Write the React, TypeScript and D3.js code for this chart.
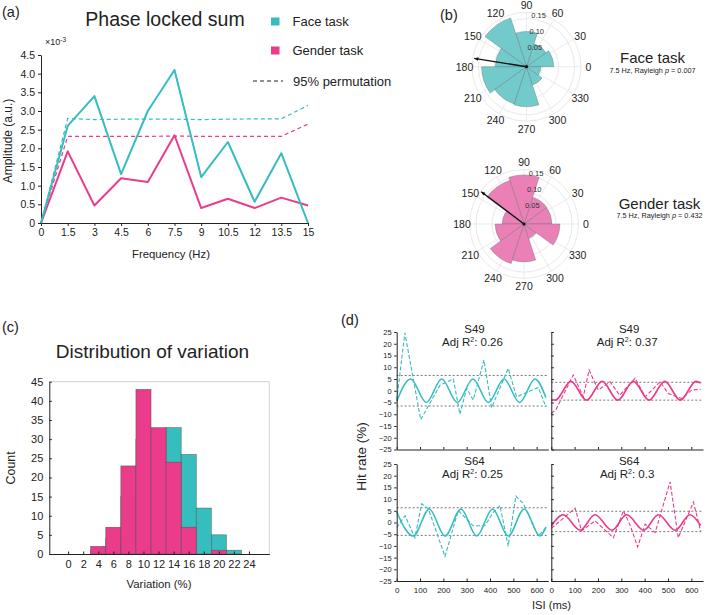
import React, { useEffect, useRef } from 'react';
import * as d3 from 'd3';

const FONT = '"Liberation Sans", Arial, Helvetica, sans-serif';
const INK = '#222';
const TEAL = '#36bdbd';
const PINK = '#eb3b8b';
const TEAL_ROSE = '#72caca';
const PINK_ROSE = '#eb80b6';

// (a) phase locked sum, amplitude in units of 1e-3
const freqs = [0, 1.5, 3, 4.5, 6, 7.5, 9, 10.5, 12, 13.5, 15];
const faceAmp = [0, 2.6, 3.4, 1.31, 3.0, 4.1, 1.23, 2.17, 0.57, 1.87, 0];
const genderAmp = [0, 1.92, 0.47, 1.2, 1.1, 2.35, 0.4, 0.65, 0.4, 0.68, 0.47];
const facePerm = [0, 2.8, 2.77, 2.78, 2.78, 2.78, 2.77, 2.78, 2.79, 2.79, 3.15];
const genderPerm = [0, 2.32, 2.32, 2.32, 2.32, 2.33, 2.32, 2.32, 2.32, 2.32, 2.65];
const ampTicks = [0, 0.5, 1, 1.5, 2, 2.5, 3, 3.5, 4, 4.5];

// (b) phase histograms at 7.5 Hz (bin start angle, proportion)
const roseBinStarts = [0, 36, 72, 108, 144, 180, 216, 252, 288, 324];
const faceRose = [0.085, 0.075, 0.11, 0.16, 0.097, 0.14, 0.122, 0.125, 0.06, 0.045];
const genderRose = [0.087, 0.088, 0.153, 0.143, 0.068, 0.09, 0.13, 0.118, 0.047, 0.112];
const roseRings = [0.05, 0.1, 0.15];
const angleLabels = [0, 30, 60, 90, 120, 150, 180, 210, 240, 270, 300, 330];
const faceMean = { angle: 171, length: 0.165 };
const genderMean = { angle: 143, length: 0.167 };

// (c) distribution of variation
const variationBins = [4, 6, 8, 10, 12, 14, 16, 18, 20, 22];
const faceCounts = [1, 4, 15, 30, 32, 33, 26, 12, 5, 1];
const genderCounts = [2, 7, 23, 43, 33, 24, 7, 0, 1, 0];
const countTicks = [0, 5, 10, 15, 20, 25, 30, 35, 40, 45];
const variationTicks = [0, 2, 4, 6, 8, 10, 12, 14, 16, 18, 20, 22, 24];

// (d) single-subject hit rate time courses
const isiTicks = [0, 100, 200, 300, 400, 500, 600];
const hitTicks = [-25, -20, -15, -10, -5, 0, 5, 10, 15, 20, 25];

const s49FaceIsi = [0, 35, 103, 186, 243, 271, 300, 328, 374, 407, 478, 514, 607, 640];
const s49FaceHit = [-4, 24.6, -12.3, 2.4, 5, -10, 1, -4, 13.1, -7.2, 9.5, -2.6, 1.4, -6.9];
const s49FaceFitIsi = [0, 60, 127, 193, 260, 327, 393, 460, 527, 593, 640];
const s49FaceFit = [-4.5, 5, -5, 5, -5, 5, -5, 5, -5, 5, -3];
const s49FaceBounds = [6.5, -6.5];

const s49GenderIsi = [0, 20, 94, 137, 162, 201, 252, 293, 359, 402, 466, 502, 559, 602, 640];
const s49GenderHit = [-9.7, -8, 6.7, -2.6, 8.8, 0.3, 3.8, -1.9, 5.3, -2.6, 3.8, -1.2, -3.3, 0.3, 0.6];
const s49GenderFitIsi = [0, 17, 84, 151, 218, 285, 352, 419, 486, 553, 620, 640];
const s49GenderFit = [-3.7, -4, 4, -4, 4, -4, 4, -4, 4, -4, 4, 3.3];
const s49GenderBounds = [3.6, -4.0];

const s64FaceIsi = [0, 36, 78, 107, 136, 207, 264, 328, 378, 414, 443, 478, 511, 543, 607, 640];
const s64FaceHit = [-2.2, 2.9, -6.5, 8, 5.8, -14.5, 5.1, -1.4, -1.4, 4.3, 7.2, -10.1, 11.3, 8, -5.8, -2.2];
const s64FaceFitIsi = [0, 71, 140, 207, 276, 343, 411, 478, 547, 614, 640];
const s64FaceFit = [4.5, -5.8, 5.8, -5.8, 5.8, -5.8, 5.8, -5.8, 5.8, -5.8, -2];
const s64FaceBounds = [6.3, -5.5];

const s64GenderIsi = [0, 30, 102, 130, 187, 266, 309, 337, 370, 402, 445, 509, 544, 609, 640];
const s64GenderHit = [-2.5, 0, 6.1, -3.6, 0.7, -6.5, 5, -1, -10.4, -0.7, -4.3, 17.4, -6.5, 8.7, -3.6];
const s64GenderFitIsi = [0, 51, 124, 187, 260, 323, 396, 459, 531, 594, 640];
const s64GenderFit = [-1.5, 3.3, -3.3, 3.3, -3.3, 3.3, -3.3, 3.3, -3.3, 3.3, -1.3];
const s64GenderBounds = [4.8, -3.9];

function label(g, x, y, s, size, anchor = 'middle') {
  return g.append('text')
    .attr('x', x)
    .attr('y', y)
    .attr('text-anchor', anchor)
    .attr('font-family', FONT)
    .attr('font-size', size)
    .attr('fill', INK)
    .text(s);
}

function styleAxis(sel, size) {
  sel.attr('font-family', FONT);
  sel.select('.domain').attr('stroke', INK).attr('stroke-width', 1);
  sel.selectAll('.tick line').attr('stroke', INK);
  sel.selectAll('.tick text').attr('font-size', size).attr('fill', INK);
}

function drawPhaseSum(svg) {
  const g = svg.append('g');
  const x = d3.scaleLinear().domain([0, 15]).range([41, 308]);
  const y = d3.scaleLinear().domain([0, 4.5]).range([223, 55]);

  g.append('g')
    .attr('transform', `translate(0,${y(0)})`)
    .call(d3.axisBottom(x).tickValues(freqs).tickSize(3).tickSizeOuter(0).tickFormat(d3.format('')))
    .call(s => styleAxis(s, 10.5));

  g.append('g')
    .attr('transform', `translate(${x(0)},0)`)
    .call(d3.axisLeft(y).tickValues(ampTicks).tickSize(3).tickSizeOuter(0)
      .tickFormat(d => (d === 0 ? '0' : d3.format('.1f')(d))))
    .call(s => styleAxis(s, 10.5));

  const line = d3.line().x((d, i) => x(freqs[i])).y(d => y(d));

  g.append('path').attr('d', line(facePerm)).attr('fill', 'none')
    .attr('stroke', TEAL).attr('stroke-width', 1.2).attr('stroke-dasharray', '4,3');
  g.append('path').attr('d', line(genderPerm)).attr('fill', 'none')
    .attr('stroke', PINK).attr('stroke-width', 1.2).attr('stroke-dasharray', '4,3');
  g.append('path').attr('d', line(genderAmp)).attr('fill', 'none')
    .attr('stroke', PINK).attr('stroke-width', 2).attr('stroke-linejoin', 'round');
  g.append('path').attr('d', line(faceAmp)).attr('fill', 'none')
    .attr('stroke', TEAL).attr('stroke-width', 2).attr('stroke-linejoin', 'round');

  // exponent
  const ex = label(g, 45, 45, '×10', 9, 'start');
  ex.append('tspan').attr('dy', -3).attr('font-size', 6.5).text('-3');

  label(g, 165, 26, 'Phase locked sum', 19.5);
  label(g, 2, 17, '(a)', 14.5, 'start');
  label(g, 171, 258, 'Frequency (Hz)', 11.3);
  label(g, 0, 0, 'Amplitude (a.u.)', 12)
    .attr('transform', `translate(12,${(y(0) + y(4.5)) / 2 + 2}) rotate(-90)`);

  // legend
  const legend = [
    { name: 'Face task', color: TEAL },
    { name: 'Gender task', color: PINK }
  ];
  legend.forEach((d, i) => {
    g.append('rect').attr('x', 271).attr('y', 17.5 + i * 29).attr('width', 8.5).attr('height', 8)
      .attr('fill', d.color);
    label(g, 292.5, 26 + i * 29, d.name, 13, 'start');
  });
  g.append('line').attr('x1', 253).attr('x2', 283).attr('y1', 81).attr('y2', 81)
    .attr('stroke', INK).attr('stroke-width', 1.2).attr('stroke-dasharray', '4,3');
  label(g, 293, 85.5, '95% permutation', 13, 'start');
}

function drawRose(svg, cx, cy, values, fill, mean, title, pValue, tx, ty) {
  const g = svg.append('g').attr('transform', `translate(${cx},${cy})`);
  const r = d3.scaleLinear().domain([0, 0.17]).range([0, 54.5]);
  const rad = a => (a * Math.PI) / 180;
  const toD3 = a => rad(90 - a);

  [...roseRings, 0.17].forEach(v => {
    g.append('circle').attr('r', r(v)).attr('fill', 'none')
      .attr('stroke', '#e2e2e2').attr('stroke-width', 0.8);
  });
  angleLabels.forEach(a => {
    g.append('line')
      .attr('x2', r(0.17) * Math.cos(rad(a)))
      .attr('y2', -r(0.17) * Math.sin(rad(a)))
      .attr('stroke', '#e6e6e6').attr('stroke-width', 0.8);
    label(g, 62 * Math.cos(rad(a)), -62 * Math.sin(rad(a)) + 4, String(a), 10.5);
  });

  const arc = d3.arc();
  g.selectAll('path.wedge')
    .data(values)
    .join('path')
    .attr('class', 'wedge')
    .attr('d', (v, i) => arc({
      innerRadius: 0,
      outerRadius: r(v),
      startAngle: toD3(roseBinStarts[i] + 36),
      endAngle: toD3(roseBinStarts[i])
    }))
    .attr('fill', fill)
    .attr('stroke', '#5a6a6a')
    .attr('stroke-opacity', 0.6)
    .attr('stroke-width', 0.6);

  roseRings.forEach(v => {
    label(g, r(v) * Math.cos(rad(83)) - 1, -r(v) * Math.sin(rad(83)) - 0.5, d3.format('.2f')(v), 7.5, 'start')
      .attr('fill', '#333');
  });

  // mean resultant vector
  const ex = r(mean.length) * Math.cos(rad(mean.angle));
  const ey = -r(mean.length) * Math.sin(rad(mean.angle));
  g.append('line').attr('x2', ex).attr('y2', ey).attr('stroke', '#111').attr('stroke-width', 1.4);
  const ux = Math.cos(rad(mean.angle));
  const uy = -Math.sin(rad(mean.angle));
  const head = [
    [ex, ey],
    [ex - 4 * ux - 1.8 * uy, ey - 4 * uy + 1.8 * ux],
    [ex - 4 * ux + 1.8 * uy, ey - 4 * uy - 1.8 * ux]
  ];
  g.append('polygon').attr('points', head.map(p => p.join(',')).join(' ')).attr('fill', '#111');
  g.append('circle').attr('r', 1.6).attr('fill', '#111');

  label(svg, tx, ty, title, 15);
  const sub = label(svg, tx, ty + 9.5, '7.5 Hz, Rayleigh ', 7.3);
  sub.append('tspan').attr('font-style', 'italic').text('p');
  sub.append('tspan').text(` = ${pValue}`);
}

function drawHistogram(svg) {
  const g = svg.append('g');
  const x = d3.scaleLinear().domain([-2.5, 26.7]).range([49.3, 269.3]);
  const y = d3.scaleLinear().domain([0, 45]).range([554, 381.7]);

  g.append('line').attr('x1', x(-2.5)).attr('x2', x(26.7)).attr('y1', y(45)).attr('y2', y(45))
    .attr('stroke', '#d0d0d0');
  g.append('line').attr('x1', x(26.7)).attr('x2', x(26.7)).attr('y1', y(45)).attr('y2', y(0))
    .attr('stroke', '#d0d0d0');

  const bars = (counts, color) => {
    g.append('g')
      .selectAll('rect')
      .data(variationBins.map((c, i) => ({ c, n: counts[i] })).filter(d => d.n > 0))
      .join('rect')
      .attr('x', d => x(d.c - 1))
      .attr('width', d => x(d.c + 1) - x(d.c - 1))
      .attr('y', d => y(d.n))
      .attr('height', d => y(0) - y(d.n))
      .attr('fill', color)
      .attr('stroke', '#555')
      .attr('stroke-width', 0.5);
  };
  bars(faceCounts, TEAL);
  bars(genderCounts, PINK);

  g.append('g')
    .attr('transform', `translate(0,${y(0)})`)
    .call(d3.axisBottom(x).tickValues(variationTicks).tickSize(-2.5).tickPadding(6).tickSizeOuter(0))
    .call(s => styleAxis(s, 11));
  g.append('g')
    .attr('transform', `translate(${x(-2.5)},0)`)
    .call(d3.axisLeft(y).tickValues(countTicks).tickSize(-2.5).tickPadding(6).tickSizeOuter(0))
    .call(s => styleAxis(s, 11));

  label(g, 2, 332, '(c)', 14.5, 'start');
  label(g, 152.5, 358, 'Distribution of variation', 19);
  label(g, 159, 588, 'Variation (%)', 11.4);
  label(g, 0, 0, 'Count', 12.4).attr('transform', `translate(15,${(y(0) + y(45)) / 2}) rotate(-90)`);
}

function drawFits(svg) {
  const g = svg.append('g');
  const cols = [
    d3.scaleLinear().domain([0, 650]).range([396.7, 548.3]),
    d3.scaleLinear().domain([0, 650]).range([551.3, 703])
  ];
  const rows = [
    d3.scaleLinear().domain([-25, 25]).range([449.5, 332]),
    d3.scaleLinear().domain([-25, 25]).range([581, 464])
  ];
  const panels = [
    { col: 0, row: 0, subject: 'S49', r2: '0.26', color: TEAL, isi: s49FaceIsi, hit: s49FaceHit, fitIsi: s49FaceFitIsi, fit: s49FaceFit, bounds: s49FaceBounds },
    { col: 1, row: 0, subject: 'S49', r2: '0.37', color: PINK, isi: s49GenderIsi, hit: s49GenderHit, fitIsi: s49GenderFitIsi, fit: s49GenderFit, bounds: s49GenderBounds },
    { col: 0, row: 1, subject: 'S64', r2: '0.25', color: TEAL, isi: s64FaceIsi, hit: s64FaceHit, fitIsi: s64FaceFitIsi, fit: s64FaceFit, bounds: s64FaceBounds },
    { col: 1, row: 1, subject: 'S64', r2: '0.3', color: PINK, isi: s64GenderIsi, hit: s64GenderHit, fitIsi: s64GenderFitIsi, fit: s64GenderFit, bounds: s64GenderBounds }
  ];

  panels.forEach(p => {
    const x = cols[p.col];
    const y = rows[p.row];
    const pg = g.append('g');

    p.bounds.forEach(b => {
      pg.append('line').attr('x1', x(0)).attr('x2', x(645)).attr('y1', y(b)).attr('y2', y(b))
        .attr('stroke', '#777').attr('stroke-width', 1).attr('stroke-dasharray', '2,2');
    });

    const dataLine = d3.line().x((d, i) => x(p.isi[i])).y(d => y(d));
    pg.append('path').attr('d', dataLine(p.hit)).attr('fill', 'none')
      .attr('stroke', p.color).attr('stroke-width', 1.1).attr('stroke-dasharray', '4,2');

    const fitLine = d3.line().curve(d3.curveMonotoneX).x((d, i) => x(p.fitIsi[i])).y(d => y(d));
    pg.append('path').attr('d', fitLine(p.fit)).attr('fill', 'none')
      .attr('stroke', p.color).attr('stroke-width', 1.6);

    pg.append('g')
      .attr('transform', `translate(0,${y(-25)})`)
      .call(d3.axisBottom(x).tickValues(isiTicks).tickSize(-2.5).tickPadding(6).tickSizeOuter(0)
        .tickFormat(p.row === 1 ? d3.format('') : () => ''))
      .call(s => styleAxis(s, 8));
    pg.append('g')
      .attr('transform', `translate(${x(0)},0)`)
      .call(d3.axisLeft(y).tickValues(hitTicks).tickSize(p.col === 0 ? 2.5 : -2.5).tickPadding(2.5).tickSizeOuter(0)
        .tickFormat(p.col === 0 ? d3.format('') : () => ''))
      .call(s => styleAxis(s, 7.5));

    const cx = (x(0) + x(650)) / 2;
    label(pg, cx + 2, y(25) + 1, p.subject, 11.5);
    const r2 = label(pg, cx, y(25) + 13.5, 'Adj R', 11.5);
    r2.append('tspan').attr('dy', -4).attr('font-size', 7).text('2');
    r2.append('tspan').attr('dy', 4).text(`: ${p.r2}`);
  });

  label(g, 341, 325, '(d)', 14.5, 'start');
  label(g, 551.5, 609, 'ISI (ms)', 11.2);
  label(g, 0, 0, 'Hit rate (%)', 13.5).attr('transform', `translate(366,${(rows[0](25) + rows[1](-25)) / 2}) rotate(-90)`);
}

export default function App() {
  const svgRef = useRef(null);

  useEffect(() => {
    const svg = d3.select(svgRef.current);
    svg.selectAll('*').remove();

    svg.append('rect').attr('width', 709).attr('height', 615).attr('fill', '#fff');

    drawPhaseSum(svg);
    drawRose(svg, 526.5, 66.7, faceRose, TEAL_ROSE, faceMean, 'Face task', '0.007', 652.5, 63);
    drawRose(svg, 524, 224, genderRose, PINK_ROSE, genderMean, 'Gender task', '0.432', 659.5, 208.5);
    label(svg, 440, 20, '(b)', 14.5, 'start');
    drawHistogram(svg);
    drawFits(svg);
  }, []);

  return (
    <svg
      ref={svgRef}
      width={709}
      height={615}
      style={{ position: 'absolute', left: 0, top: 0, display: 'block' }}
    />
  );
}
